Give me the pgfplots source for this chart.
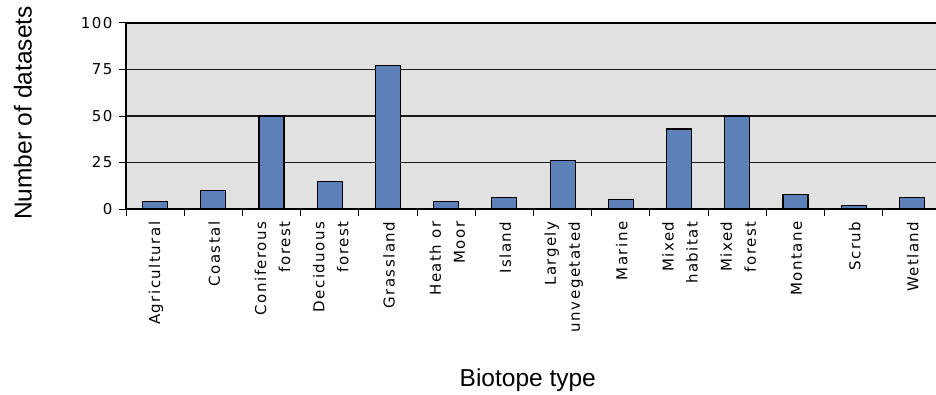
\documentclass[border=0pt]{standalone}
\usepackage{pgfplots}
\pgfplotsset{compat=1.18}
\usepackage{fontspec}
\setmainfont{DejaVu Sans}
\newfontfamily\tickfont[LetterSpace=10]{DejaVu Sans}
\newfontfamily\arialfont{Liberation Sans}
\definecolor{barblue}{RGB}{92,128,184}
\definecolor{bggray}{RGB}{225,225,225}
\begin{document}
\begin{tikzpicture}[x=1pt,y=1pt]
\useasboundingbox (0,0) rectangle (936,394);
\clip (0,0) rectangle (936,394);
\begin{axis}[
  at={(126pt,185pt)}, anchor=south west,
  width=815pt, height=186pt, scale only axis,
  xmin=-0.5, xmax=13.5, ymin=0, ymax=100,
  ytick={0,25,50,75,100},
  xtick={0,...,13},
  xticklabels={Agricultural, Coastal, {Coniferous\\forest}, {Deciduous\\forest}, Grassland, {Heath or\\Moor}, Island, {Largely\\unvegetated}, Marine, {Mixed\\habitat}, {Mixed\\forest}, Montane, Scrub, Wetland},
  minor xtick={-0.5,0.5,...,13.5},
  major x tick style={draw=none},
  xtick pos=bottom, ytick pos=left,
  tick align=outside,
  major tick length=7pt, minor tick length=7pt,
  tick style={black, line width=1pt},
  axis line style={black, line width=1.1pt},
  ymajorgrids, grid style={black!90, line width=1.2pt},
  axis background/.style={fill=bggray},
  ybar, bar width=25pt, bar shift=0pt,
  /pgf/number format/assume math mode=true,
  yticklabel style={font=\tickfont\fontsize{15}{16}\selectfont, xshift=-3pt},
  xticklabel style={rotate=90, anchor=east, align=right, font=\tickfont\fontsize{15}{24}\selectfont, xshift=-2pt, yshift=-1pt},
  every axis y label/.style={at={(axis description cs:-0.1264,0.516)}, rotate=90, anchor=center, font=\arialfont\fontsize{24.5}{24.5}\selectfont},
  every axis x label/.style={at={(axis description cs:0.493,-0.92)}, anchor=center, font=\arialfont\fontsize{24.5}{24.5}\selectfont},
  ylabel={Number of datasets},
  xlabel={Biotope type},
]
\addplot[fill=barblue, draw=black, line width=1.1pt] coordinates {
  (0,4) (1,10) (2,50) (3,15) (4,77) (5,4) (6,6) (7,26) (8,5) (9,43) (10,50) (11,8) (12,2) (13,6)
};
\end{axis}
\end{tikzpicture}
\end{document}
